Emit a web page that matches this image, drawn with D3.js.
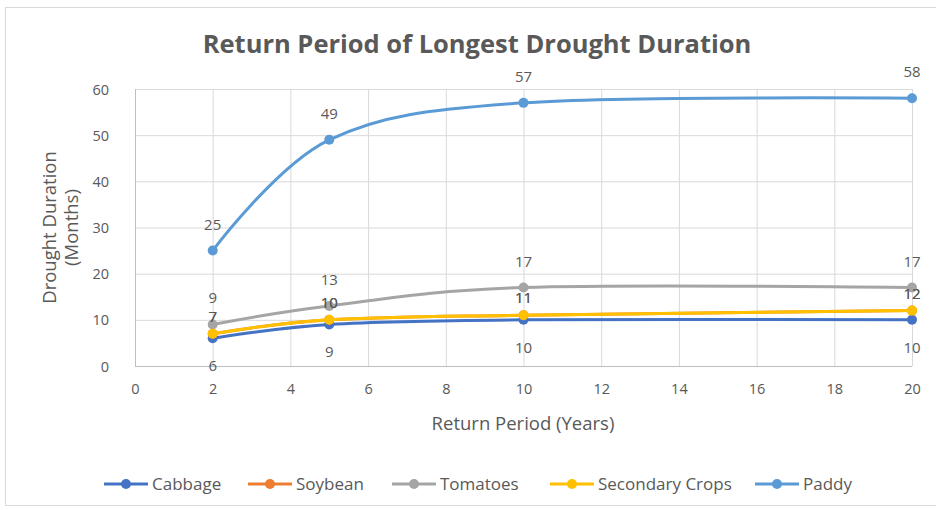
<!DOCTYPE html>
<html>
<head>
<meta charset="utf-8">
<script src="https://cdn.jsdelivr.net/npm/d3@7/dist/d3.min.js"></script>
<style>
  html, body { margin: 0; padding: 0; background: #fff; }
  svg { display: block; font-family: "Open Sans", Lato, sans-serif; }
</style>
</head>
<body>
<svg id="chart" width="936" height="510"></svg>
<script>
// Return periods (years) on the x axis
const returnPeriods = [2, 5, 10, 20];

// Longest drought duration (months) per crop
const cabbage   = [6, 9, 10, 10];
const soybean   = [7, 10, 11, 12];
const tomatoes  = [9, 13, 17, 17];
const secondary = [7, 10, 11, 12];
const paddy     = [25, 49, 57, 58];

const seriesNames  = ["Cabbage", "Soybean", "Tomatoes", "Secondary Crops", "Paddy"];
const seriesColors = ["#4472C4", "#ED7D31", "#A5A5A5", "#FFC000", "#5B9BD5"];
// vertical shift of each series' value labels from its points (px)
const labelShift   = [33, -12, -21, -12, -21];

const xTicks = [0, 2, 4, 6, 8, 10, 12, 14, 16, 18, 20];
const yTicks = [0, 10, 20, 30, 40, 50, 60];

const seriesValues = [cabbage, soybean, tomatoes, secondary, paddy];
const series = seriesNames.map((name, i) => ({
  name,
  color: seriesColors[i],
  shift: labelShift[i],
  points: returnPeriods.map((x, j) => ({ x, y: seriesValues[i][j] }))
}));

const svg = d3.select("#chart");
const textColor = "#595959";
const font = "'Open Sans', Lato, sans-serif";

// chart frame
svg.append("rect")
  .attr("x", 5.5).attr("y", 7.5)
  .attr("width", 940).attr("height", 498)
  .attr("fill", "#fff")
  .attr("stroke", "#d9d9d9");

const plot = { left: 135, right: 912, top: 89, bottom: 366 };

const x = d3.scaleLinear().domain([0, 20]).range([plot.left, plot.right]);
const y = d3.scaleLinear().domain([0, 60]).range([plot.bottom, plot.top]);

// title
svg.append("text")
  .attr("x", 477).attr("y", 53)
  .attr("text-anchor", "middle")
  .attr("font-size", 25.5)
  .attr("font-weight", "bold")
  .attr("fill", textColor)
  .text("Return Period of Longest Drought Duration");

// gridlines
const grid = svg.append("g");
grid.selectAll("line.h").data(yTicks).join("line")
  .attr("x1", plot.left).attr("x2", plot.right)
  .attr("y1", d => y(d) + 0.5).attr("y2", d => y(d) + 0.5)
  .attr("stroke", d => d === 0 ? "#bfbfbf" : "#d9d9d9")
  .attr("stroke-width", 1);
grid.selectAll("line.v").data(xTicks).join("line")
  .attr("y1", plot.top).attr("y2", plot.bottom)
  .attr("x1", d => x(d) + 0.5).attr("x2", d => x(d) + 0.5)
  .attr("stroke", d => d === 0 ? "#bfbfbf" : "#d9d9d9")
  .attr("stroke-width", 1);

// axes (labels only)
const xAxis = svg.append("g")
  .attr("transform", `translate(0,${plot.bottom + 12})`)
  .call(d3.axisBottom(x).tickValues(xTicks).tickSize(0).tickPadding(6));
const yAxis = svg.append("g")
  .attr("transform", `translate(${plot.left - 20},0)`)
  .call(d3.axisLeft(y).tickValues(yTicks).tickSize(0).tickPadding(6));
[xAxis, yAxis].forEach(a => {
  a.select(".domain").remove();
  a.selectAll("text")
    .attr("fill", textColor)
    .attr("font-size", 14.5)
    .attr("font-family", font);
});
yAxis.selectAll("text").attr("dy", "0.35em");

// axis titles
svg.append("text")
  .attr("x", 523).attr("y", 430)
  .attr("text-anchor", "middle")
  .attr("font-size", 18.5)
  .attr("fill", textColor)
  .text("Return Period (Years)");

const yTitle = svg.append("text")
  .attr("transform", `translate(56,${(plot.top + plot.bottom) / 2}) rotate(-90)`)
  .attr("text-anchor", "middle")
  .attr("font-size", 18.5)
  .attr("fill", textColor);
yTitle.append("tspan").attr("x", 0).attr("dy", 0).text("Drought Duration");
yTitle.append("tspan").attr("x", 0).attr("dy", 22).text("(Months)");

// smoothed series lines
const line = d3.line()
  .x(d => x(d.x))
  .y(d => y(d.y))
  .curve(d3.curveCatmullRom.alpha(0));

const seriesG = svg.append("g").selectAll("g").data(series).join("g");
seriesG.append("path")
  .attr("d", d => line(d.points))
  .attr("fill", "none")
  .attr("stroke", d => d.color)
  .attr("stroke-width", 3)
  .attr("stroke-linecap", "round");
seriesG.selectAll("circle")
  .data(d => d.points.map(p => ({ ...p, color: d.color })))
  .join("circle")
  .attr("cx", d => x(d.x))
  .attr("cy", d => y(d.y))
  .attr("r", 5)
  .attr("fill", d => d.color);

// value labels
const labelsG = svg.append("g");
series.forEach(s => {
  labelsG.selectAll(null)
    .data(s.points)
    .join("text")
    .attr("x", d => x(d.x))
    .attr("y", d => y(d.y) + s.shift)
    .attr("text-anchor", "middle")
    .attr("font-size", 15)
    .attr("fill", textColor)
    .text(d => d.y);
});

// legend
const legendItems = [
  { name: "Cabbage", x: 152 },
  { name: "Soybean", x: 296 },
  { name: "Tomatoes", x: 440 },
  { name: "Secondary Crops", x: 598 },
  { name: "Paddy", x: 803 }
];
const legend = svg.append("g");
legendItems.forEach((item, i) => {
  const g = legend.append("g").attr("transform", `translate(${item.x},484)`);
  g.append("line")
    .attr("x1", -48).attr("x2", -4).attr("y1", 0).attr("y2", 0)
    .attr("stroke", seriesColors[i]).attr("stroke-width", 3);
  g.append("circle").attr("cx", -26).attr("cy", 0).attr("r", 5).attr("fill", seriesColors[i]);
  g.append("text")
    .attr("x", 0).attr("y", 0).attr("dy", "0.35em")
    .attr("font-size", 17)
    .attr("fill", textColor)
    .text(item.name);
});
</script>
</body>
</html>
